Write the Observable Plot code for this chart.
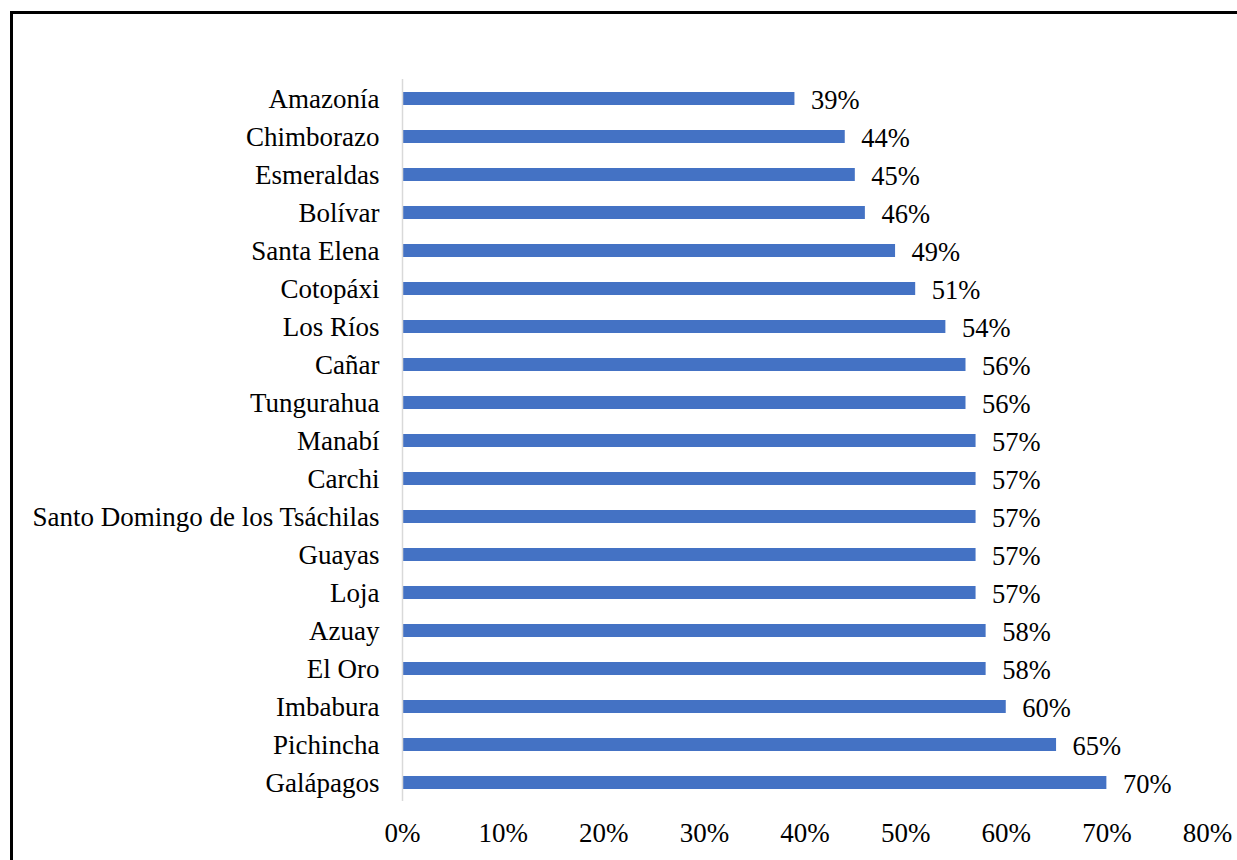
<!DOCTYPE html>
<html>
<head>
<meta charset="utf-8">
<script src="https://cdn.jsdelivr.net/npm/d3@7"></script>
<script src="https://cdn.jsdelivr.net/npm/@observablehq/plot@0.6"></script>
<style>
  html, body { margin: 0; padding: 0; background: #fff; overflow: hidden; }
  #wrap { position: relative; width: 1237px; height: 860px; }
  #frame { position: absolute; left: 10px; top: 11px; width: 1300px; height: 900px; border: 3px solid #000; box-sizing: border-box; }
  #chart { position: absolute; left: 0; top: 0; }
</style>
</head>
<body>
<div id="wrap">
  <div id="frame"></div>
  <div id="chart"></div>
</div>
<script>
const provinces = ["Amazonía","Chimborazo","Esmeraldas","Bolívar","Santa Elena","Cotopáxi","Los Ríos","Cañar","Tungurahua","Manabí","Carchi","Santo Domingo de los Tsáchilas","Guayas","Loja","Azuay","El Oro","Imbabura","Pichincha","Galápagos"];
const values = [0.39,0.44,0.45,0.46,0.49,0.51,0.54,0.56,0.56,0.57,0.57,0.57,0.57,0.57,0.58,0.58,0.60,0.65,0.70];
const xTicks = [0,0.1,0.2,0.3,0.4,0.5,0.6,0.7,0.8];

const data = provinces.map((p, i) => ({province: p, value: values[i]}));
const pct = d => Math.round(d * 100) + "%";

const chart = Plot.plot({
  width: 1237,
  height: 860,
  marginLeft: 402,
  marginRight: 30,
  marginTop: 79,
  marginBottom: 59,
  style: {fontFamily: "'Liberation Serif', 'Times New Roman', serif", fontSize: "27px", color: "#000", background: "transparent"},
  x: {domain: [0, 0.8], ticks: xTicks, tickFormat: pct, tickSize: 0, tickPadding: 21, label: null},
  y: {domain: provinces, paddingInner: 0.66, paddingOuter: 0.33, tickSize: 0, tickPadding: 23, label: null},
  marks: [
    Plot.barX(data, {x: "value", y: "province", fill: "#4472C4"}),
    Plot.ruleX([0], {stroke: "#d9d9d9", strokeWidth: 1.5}),
    Plot.text(data, {x: "value", y: "province", text: d => pct(d.value), textAnchor: "start", dx: 16, dy: 2, fill: "#000", fontSize: 26.5})
  ]
});
document.getElementById("chart").appendChild(chart);
</script>
</body>
</html>
